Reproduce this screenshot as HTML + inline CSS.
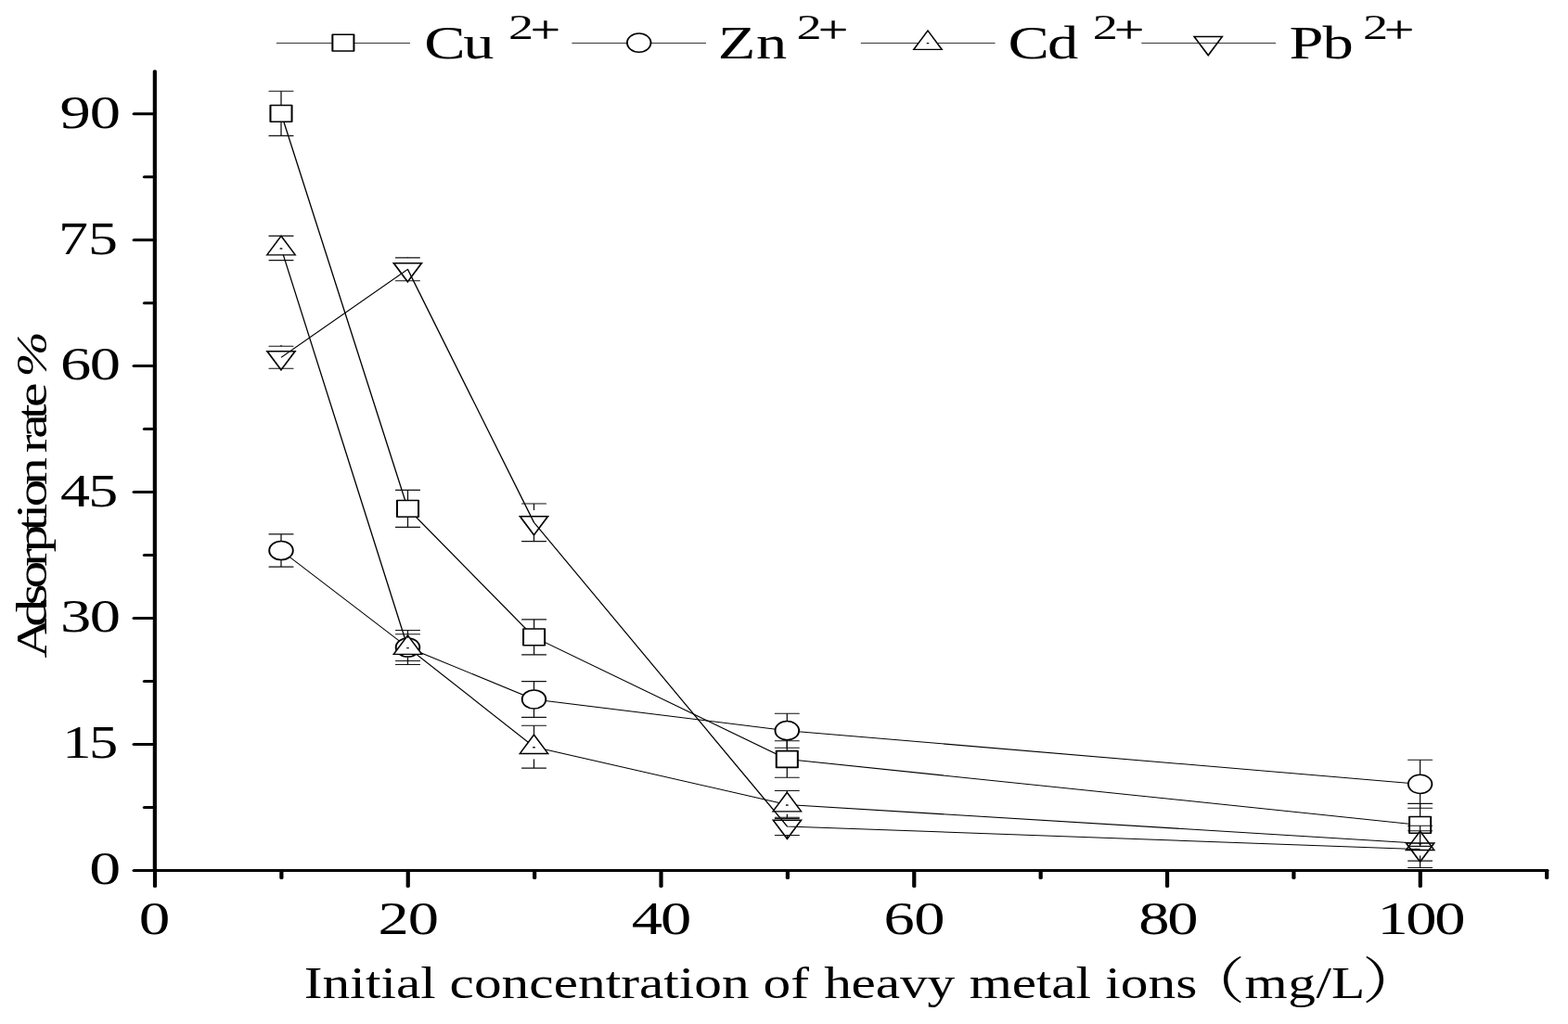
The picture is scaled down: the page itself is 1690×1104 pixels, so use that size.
<!DOCTYPE html>
<html lang="en">
<head>
<meta charset="utf-8">
<title>Adsorption rate vs initial concentration of heavy metal ions</title>
<style>
html,body{margin:0;padding:0;background:#fff;}
body{width:1690px;height:1104px;overflow:hidden;}
svg text{font-family:"Liberation Serif", "Noto Serif CJK SC", serif;white-space:pre;}
</style>
</head>
<body>
<svg width="1690" height="1104" viewBox="0 0 1690 1104" style="display:block">
<g id="axes" transform="scale(1.4,1)" stroke="#000" stroke-width="3.0" stroke-linecap="round" fill="none">
<line x1="119.18" y1="76.70" x2="119.18" y2="938.45"/>
<line x1="119.18" y1="938.45" x2="1190.99" y2="938.45"/>
<line x1="103.29" y1="938.45" x2="119.18" y2="938.45"/>
<line x1="103.29" y1="802.49" x2="119.18" y2="802.49"/>
<line x1="103.29" y1="666.53" x2="119.18" y2="666.53"/>
<line x1="103.29" y1="530.57" x2="119.18" y2="530.57"/>
<line x1="103.29" y1="394.61" x2="119.18" y2="394.61"/>
<line x1="103.29" y1="258.65" x2="119.18" y2="258.65"/>
<line x1="103.29" y1="122.69" x2="119.18" y2="122.69"/>
<line x1="111.32" y1="870.47" x2="119.18" y2="870.47"/>
<line x1="111.32" y1="734.51" x2="119.18" y2="734.51"/>
<line x1="111.32" y1="598.55" x2="119.18" y2="598.55"/>
<line x1="111.32" y1="462.59" x2="119.18" y2="462.59"/>
<line x1="111.32" y1="326.63" x2="119.18" y2="326.63"/>
<line x1="111.32" y1="190.67" x2="119.18" y2="190.67"/>
<line x1="119.29" y1="938.45" x2="119.29" y2="955.60"/>
<line x1="314.11" y1="938.45" x2="314.11" y2="955.60"/>
<line x1="508.94" y1="938.45" x2="508.94" y2="955.60"/>
<line x1="703.77" y1="938.45" x2="703.77" y2="955.60"/>
<line x1="898.60" y1="938.45" x2="898.60" y2="955.60"/>
<line x1="1093.43" y1="938.45" x2="1093.43" y2="955.60"/>
<line x1="216.70" y1="938.45" x2="216.70" y2="946.60"/>
<line x1="411.53" y1="938.45" x2="411.53" y2="946.60"/>
<line x1="606.36" y1="938.45" x2="606.36" y2="946.60"/>
<line x1="801.19" y1="938.45" x2="801.19" y2="946.60"/>
<line x1="996.01" y1="938.45" x2="996.01" y2="946.60"/>
<line x1="1190.84" y1="938.45" x2="1190.84" y2="946.60"/>
</g>
<g fill="#000" stroke="#000" stroke-width="0" stroke-linejoin="round">
<text id="y90" transform="translate(64.55,137.53) scale(1.3000,1.0000)" font-size="51.2" x="0.00 24.79" y="0">90</text>
<text id="y75" transform="translate(62.95,273.50) scale(1.2500,1.0000)" font-size="51.2" x="0.00 25.66" y="0">75</text>
<text id="y60" transform="translate(64.90,409.47) scale(1.3000,1.0000)" font-size="51.2" x="0.00 24.48" y="0">60</text>
<text id="y45" transform="translate(64.90,545.54) scale(1.2500,1.0000)" font-size="51.2" x="0.00 24.25" y="0">45</text>
<text id="y30" transform="translate(65.10,681.41) scale(1.3000,1.0000)" font-size="51.2" x="0.00 24.41" y="0">30</text>
<text id="y15" transform="translate(67.15,817.33) scale(1.2200,1.0000)" font-size="51.2" x="0.00 23.58" y="0">15</text>
<text id="y0" transform="translate(96.15,953.35) scale(1.3253,1.0000)" font-size="51.2" x="0.00" y="0">0</text>
<text id="x0" transform="translate(149.85,1006.85) scale(1.3138,1.0000)" font-size="51.2" x="0.00" y="0">0</text>
<text id="x20" transform="translate(407.40,1006.85) scale(1.3000,1.0000)" font-size="51.2" x="0.00 24.95" y="0">20</text>
<text id="x40" transform="translate(680.70,1006.85) scale(1.3000,1.0000)" font-size="51.2" x="0.00 24.10" y="0">40</text>
<text id="x60" transform="translate(952.55,1006.85) scale(1.3000,1.0000)" font-size="51.2" x="0.00 25.10" y="0">60</text>
<text id="x80" transform="translate(1227.30,1006.85) scale(1.3000,1.0000)" font-size="51.2" x="0.00 23.83" y="0">80</text>
<text id="x100" transform="translate(1484.40,1006.85) scale(1.3000,1.0000)" font-size="51.2" x="0.00 23.75 47.51" y="0">100</text>
<text id="LCu" transform="translate(457.25,63.40) scale(1.3200,1.0000)" font-size="50.4" x="0.00 31.91" y="0">Cu</text>
<text id="SCu" transform="translate(548.05,41.65) scale(1.4261,1)" font-size="38" x="0" y="0">2<tspan font-size="40.0" stroke-width="0.3" x="16.57" y="3.58">+</tspan></text>
<text id="LZn" transform="translate(773.75,63.45) scale(1.3200,1.0000)" font-size="50.4" x="0.00 31.35" y="0">Zn</text>
<text id="SZn" transform="translate(858.50,41.65) scale(1.4261,1)" font-size="38" x="0" y="0">2<tspan font-size="40.0" stroke-width="0.3" x="16.54" y="3.58">+</tspan></text>
<text id="LCd" transform="translate(1086.55,63.40) scale(1.3200,1.0000)" font-size="50.4" x="0.00 32.10" y="0">Cd</text>
<text id="SCd" transform="translate(1177.85,41.65) scale(1.4257,1)" font-size="38" x="0" y="0">2<tspan font-size="40.0" stroke-width="0.3" x="16.16" y="3.58">+</tspan></text>
<text id="LPb" transform="translate(1389.55,63.20) scale(1.3200,1.0000)" font-size="50.4" x="0.00 27.16" y="0">Pb</text>
<text id="SPb" transform="translate(1469.05,41.65) scale(1.4261,1)" font-size="38" x="0" y="0">2<tspan font-size="40.0" stroke-width="0.3" x="16.15" y="3.58">+</tspan></text>
<text id="xtitle" transform="translate(0,1076.2) scale(1.237,1)" font-size="48.0"><tspan x="265.00 281.01 305.06 318.43 331.79 345.16 366.50" y="0">Initial</tspan><tspan x="379.87" y="0"> </tspan><tspan x="391.71 413.02 437.02 461.02 482.33 503.63 527.63 540.97 556.95 578.26 591.59 604.93 628.93" y="0">concentration</tspan><tspan x="652.93" y="0"> </tspan><tspan x="664.96 688.92" y="0">of</tspan><tspan x="704.88" y="0"> </tspan><tspan x="717.99 741.82 762.98 784.14 807.98" y="0">heavy</tspan><tspan x="831.82" y="0"> </tspan><tspan x="844.58 881.68 902.85 916.10 937.27" y="0">metal</tspan><tspan x="950.52" y="0"> </tspan><tspan x="963.02 976.36 1000.39 1024.41" y="0">ions</tspan><tspan font-size="53.6" x="1031.29" y="1.20">（</tspan><tspan x="1084.56 1122.37 1146.67 1160.17" y="0">mg/L</tspan><tspan font-size="53.6" x="1186.75" y="1.07">）</tspan></text>
<text id="ytitle" transform="translate(49.80,709.50) rotate(-90) scale(1.2800,1)" font-size="46.6" x="0.00 26.29 44.49 58.66 76.87 88.99 107.19 117.31 127.42 145.63 163.83 172.93 185.05 201.21 211.33 227.49" y="0">Adsorption rate <tspan font-style="italic" x="236.59" font-size="46.6">%</tspan></text>
</g>
<g id="series-Cu">
<polyline transform="scale(1.3,1)" points="233.08,122.30 338.08,548.40 442.77,686.90 652.54,818.50 1177.38,889.40" fill="none" stroke="#000" stroke-width="1.05" stroke-linejoin="round"/>
<g transform="translate(303.00,122.30) scale(1.3,1)"><rect x="-8.88" y="-8.88" width="17.76" height="17.76" fill="#fff" stroke="#000" stroke-width="1.55" stroke-linejoin="round"/></g>
<g transform="translate(439.50,548.40) scale(1.3,1)"><rect x="-8.88" y="-8.88" width="17.76" height="17.76" fill="#fff" stroke="#000" stroke-width="1.55" stroke-linejoin="round"/></g>
<g transform="translate(575.60,686.90) scale(1.3,1)"><rect x="-8.88" y="-8.88" width="17.76" height="17.76" fill="#fff" stroke="#000" stroke-width="1.55" stroke-linejoin="round"/></g>
<g transform="translate(848.30,818.50) scale(1.3,1)"><rect x="-8.88" y="-8.88" width="17.76" height="17.76" fill="#fff" stroke="#000" stroke-width="1.55" stroke-linejoin="round"/></g>
<g transform="translate(1530.60,889.40) scale(1.3,1)"><rect x="-8.88" y="-8.88" width="17.76" height="17.76" fill="#fff" stroke="#000" stroke-width="1.55" stroke-linejoin="round"/></g>
</g>
<g id="series-Zn">
<polyline transform="scale(1.3,1)" points="233.08,593.50 338.08,698.00 442.69,754.00 652.54,787.70 1177.38,845.30" fill="none" stroke="#000" stroke-width="1.05" stroke-linejoin="round"/>
<g transform="translate(303.00,593.50) scale(1.267,1)"><circle r="10.1" fill="#fff" stroke="#000" stroke-width="1.5"/></g>
<g transform="translate(439.50,698.00) scale(1.267,1)"><circle r="10.1" fill="#fff" stroke="#000" stroke-width="1.5"/></g>
<g transform="translate(575.50,754.00) scale(1.267,1)"><circle r="10.1" fill="#fff" stroke="#000" stroke-width="1.5"/></g>
<g transform="translate(848.30,787.70) scale(1.267,1)"><circle r="10.1" fill="#fff" stroke="#000" stroke-width="1.5"/></g>
<g transform="translate(1530.60,845.30) scale(1.267,1)"><circle r="10.1" fill="#fff" stroke="#000" stroke-width="1.5"/></g>
</g>
<g id="series-Cd">
<polyline transform="scale(1.3,1)" points="233.08,267.50 338.08,698.10 442.69,805.20 652.54,867.50 1177.38,909.20" fill="none" stroke="#000" stroke-width="1.05" stroke-linejoin="round"/>
<g transform="translate(303.00,267.50) scale(1.3,1)"><path d="M0 -13.1L11.7 7.3L-11.7 7.3Z" fill="#fff" stroke="#000" stroke-width="1.28" stroke-linejoin="miter"/><rect x="-1.1" y="-0.15" width="2.2" height="1.4" rx="0.5" fill="#111"/></g>
<g transform="translate(439.50,698.10) scale(1.3,1)"><path d="M0 -13.1L11.7 7.3L-11.7 7.3Z" fill="#fff" stroke="#000" stroke-width="1.28" stroke-linejoin="miter"/><rect x="-1.1" y="-0.15" width="2.2" height="1.4" rx="0.5" fill="#111"/></g>
<g transform="translate(575.50,805.20) scale(1.3,1)"><path d="M0 -13.1L11.7 7.3L-11.7 7.3Z" fill="#fff" stroke="#000" stroke-width="1.28" stroke-linejoin="miter"/><rect x="-1.1" y="-0.15" width="2.2" height="1.4" rx="0.5" fill="#111"/></g>
<g transform="translate(848.30,867.50) scale(1.3,1)"><path d="M0 -13.1L11.7 7.3L-11.7 7.3Z" fill="#fff" stroke="#000" stroke-width="1.28" stroke-linejoin="miter"/><rect x="-1.1" y="-0.15" width="2.2" height="1.4" rx="0.5" fill="#111"/></g>
<g transform="translate(1530.60,909.20) scale(1.3,1)"><path d="M0 -13.1L11.7 7.3L-11.7 7.3Z" fill="#fff" stroke="#000" stroke-width="1.28" stroke-linejoin="miter"/><rect x="-1.1" y="-0.15" width="2.2" height="1.4" rx="0.5" fill="#111"/></g>
</g>
<g id="series-Pb">
<polyline transform="scale(1.3,1)" points="233.08,385.30 338.00,290.30 442.69,563.30 652.62,890.90 1177.38,915.60" fill="none" stroke="#000" stroke-width="1.05" stroke-linejoin="round"/>
<g transform="translate(303.00,385.30) scale(1.3,1)"><path d="M0 13.45L11.6 -6.6L-11.6 -6.6Z" fill="none" stroke="#000" stroke-width="1.4" stroke-linejoin="miter"/></g>
<g transform="translate(439.40,290.30) scale(1.3,1)"><path d="M0 13.45L11.6 -6.6L-11.6 -6.6Z" fill="none" stroke="#000" stroke-width="1.4" stroke-linejoin="miter"/></g>
<g transform="translate(575.50,563.30) scale(1.3,1)"><path d="M0 13.45L11.6 -6.6L-11.6 -6.6Z" fill="none" stroke="#000" stroke-width="1.4" stroke-linejoin="miter"/></g>
<g transform="translate(848.40,890.90) scale(1.3,1)"><path d="M0 13.45L11.6 -6.6L-11.6 -6.6Z" fill="none" stroke="#000" stroke-width="1.4" stroke-linejoin="miter"/></g>
<g transform="translate(1530.60,915.60) scale(1.3,1)"><path d="M0 13.45L11.6 -6.6L-11.6 -6.6Z" fill="none" stroke="#000" stroke-width="1.4" stroke-linejoin="miter"/></g>
</g>
<g id="errorbars" stroke="#111" fill="none">
<line x1="290.00" y1="98.20" x2="316.00" y2="98.20" stroke-width="1.1" stroke-linecap="round"/><line x1="303.00" y1="113.30" x2="303.00" y2="98.20" stroke-width="1.3"/><line x1="290.00" y1="146.40" x2="316.00" y2="146.40" stroke-width="1.1" stroke-linecap="round"/><line x1="303.00" y1="131.30" x2="303.00" y2="146.40" stroke-width="1.3"/>
<line x1="426.50" y1="528.40" x2="452.50" y2="528.40" stroke-width="1.1" stroke-linecap="round"/><line x1="439.50" y1="539.40" x2="439.50" y2="528.40" stroke-width="1.3"/><line x1="426.50" y1="568.40" x2="452.50" y2="568.40" stroke-width="1.1" stroke-linecap="round"/><line x1="439.50" y1="557.40" x2="439.50" y2="568.40" stroke-width="1.3"/>
<line x1="562.60" y1="667.90" x2="588.60" y2="667.90" stroke-width="1.1" stroke-linecap="round"/><line x1="575.60" y1="677.90" x2="575.60" y2="667.90" stroke-width="1.3"/><line x1="562.60" y1="705.90" x2="588.60" y2="705.90" stroke-width="1.1" stroke-linecap="round"/><line x1="575.60" y1="695.90" x2="575.60" y2="705.90" stroke-width="1.3"/>
<line x1="835.30" y1="798.80" x2="861.30" y2="798.80" stroke-width="1.1" stroke-linecap="round"/><line x1="848.30" y1="809.50" x2="848.30" y2="798.80" stroke-width="1.3"/><line x1="835.30" y1="838.20" x2="861.30" y2="838.20" stroke-width="1.1" stroke-linecap="round"/><line x1="848.30" y1="827.50" x2="848.30" y2="838.20" stroke-width="1.3"/>
<line x1="1517.60" y1="866.40" x2="1543.60" y2="866.40" stroke-width="1.1" stroke-linecap="round"/><line x1="1530.60" y1="880.40" x2="1530.60" y2="866.40" stroke-width="1.3"/><line x1="1517.60" y1="912.40" x2="1543.60" y2="912.40" stroke-width="1.1" stroke-linecap="round"/><line x1="1530.60" y1="898.40" x2="1530.60" y2="912.40" stroke-width="1.3"/>
<line x1="290.00" y1="575.90" x2="316.00" y2="575.90" stroke-width="1.1" stroke-linecap="round"/><line x1="303.00" y1="583.30" x2="303.00" y2="575.90" stroke-width="1.3"/><line x1="290.00" y1="611.10" x2="316.00" y2="611.10" stroke-width="1.1" stroke-linecap="round"/><line x1="303.00" y1="603.70" x2="303.00" y2="611.10" stroke-width="1.3"/>
<line x1="426.50" y1="679.50" x2="452.50" y2="679.50" stroke-width="1.1" stroke-linecap="round"/><line x1="439.50" y1="687.80" x2="439.50" y2="679.50" stroke-width="1.3"/><line x1="426.50" y1="716.50" x2="452.50" y2="716.50" stroke-width="1.1" stroke-linecap="round"/><line x1="439.50" y1="708.20" x2="439.50" y2="716.50" stroke-width="1.3"/>
<line x1="562.50" y1="734.60" x2="588.50" y2="734.60" stroke-width="1.1" stroke-linecap="round"/><line x1="575.50" y1="743.80" x2="575.50" y2="734.60" stroke-width="1.3"/><line x1="562.50" y1="773.40" x2="588.50" y2="773.40" stroke-width="1.1" stroke-linecap="round"/><line x1="575.50" y1="764.20" x2="575.50" y2="773.40" stroke-width="1.3"/>
<line x1="835.30" y1="769.20" x2="861.30" y2="769.20" stroke-width="1.1" stroke-linecap="round"/><line x1="848.30" y1="777.50" x2="848.30" y2="769.20" stroke-width="1.3"/><line x1="835.30" y1="806.20" x2="861.30" y2="806.20" stroke-width="1.1" stroke-linecap="round"/><line x1="848.30" y1="797.90" x2="848.30" y2="806.20" stroke-width="1.3"/>
<line x1="1517.60" y1="819.30" x2="1543.60" y2="819.30" stroke-width="1.1" stroke-linecap="round"/><line x1="1530.60" y1="835.10" x2="1530.60" y2="819.30" stroke-width="1.3"/><line x1="1517.60" y1="871.30" x2="1543.60" y2="871.30" stroke-width="1.1" stroke-linecap="round"/><line x1="1530.60" y1="855.50" x2="1530.60" y2="871.30" stroke-width="1.3"/>
<line x1="290.00" y1="254.40" x2="316.00" y2="254.40" stroke-width="1.1" stroke-linecap="round"/><line x1="290.00" y1="280.60" x2="316.00" y2="280.60" stroke-width="1.1" stroke-linecap="round"/>
<line x1="426.50" y1="683.70" x2="452.50" y2="683.70" stroke-width="1.1" stroke-linecap="round"/><line x1="439.50" y1="684.90" x2="439.50" y2="683.70" stroke-width="1.3"/><line x1="426.50" y1="712.50" x2="452.50" y2="712.50" stroke-width="1.1" stroke-linecap="round"/><line x1="439.50" y1="711.30" x2="439.50" y2="712.50" stroke-width="1.3"/>
<line x1="562.50" y1="782.30" x2="588.50" y2="782.30" stroke-width="1.1" stroke-linecap="round"/><line x1="575.50" y1="792.00" x2="575.50" y2="782.30" stroke-width="1.3"/><line x1="562.50" y1="828.10" x2="588.50" y2="828.10" stroke-width="1.1" stroke-linecap="round"/><line x1="575.50" y1="818.40" x2="575.50" y2="828.10" stroke-width="1.3"/>
<line x1="835.30" y1="852.50" x2="861.30" y2="852.50" stroke-width="1.1" stroke-linecap="round"/><line x1="848.30" y1="854.30" x2="848.30" y2="852.50" stroke-width="1.3"/><line x1="835.30" y1="882.50" x2="861.30" y2="882.50" stroke-width="1.1" stroke-linecap="round"/><line x1="848.30" y1="880.70" x2="848.30" y2="882.50" stroke-width="1.3"/>
<line x1="1517.60" y1="890.30" x2="1543.60" y2="890.30" stroke-width="1.1" stroke-linecap="round"/><line x1="1530.60" y1="896.00" x2="1530.60" y2="890.30" stroke-width="1.3"/><line x1="1517.60" y1="928.10" x2="1543.60" y2="928.10" stroke-width="1.1" stroke-linecap="round"/><line x1="1530.60" y1="922.40" x2="1530.60" y2="928.10" stroke-width="1.3"/>
<line x1="290.00" y1="373.30" x2="316.00" y2="373.30" stroke-width="1.1" stroke-linecap="round"/><line x1="303.00" y1="372.10" x2="303.00" y2="373.30" stroke-width="1.3"/><line x1="290.00" y1="397.30" x2="316.00" y2="397.30" stroke-width="1.1" stroke-linecap="round"/><line x1="303.00" y1="398.50" x2="303.00" y2="397.30" stroke-width="1.3"/>
<line x1="426.40" y1="277.90" x2="452.40" y2="277.90" stroke-width="1.1" stroke-linecap="round"/><line x1="439.40" y1="277.10" x2="439.40" y2="277.90" stroke-width="1.3"/><line x1="426.40" y1="302.70" x2="452.40" y2="302.70" stroke-width="1.1" stroke-linecap="round"/><line x1="439.40" y1="303.50" x2="439.40" y2="302.70" stroke-width="1.3"/>
<line x1="562.50" y1="543.00" x2="588.50" y2="543.00" stroke-width="1.1" stroke-linecap="round"/><line x1="575.50" y1="550.10" x2="575.50" y2="543.00" stroke-width="1.3"/><line x1="562.50" y1="583.60" x2="588.50" y2="583.60" stroke-width="1.1" stroke-linecap="round"/><line x1="575.50" y1="576.50" x2="575.50" y2="583.60" stroke-width="1.3"/>
<line x1="835.40" y1="881.30" x2="861.40" y2="881.30" stroke-width="1.1" stroke-linecap="round"/><line x1="848.40" y1="877.70" x2="848.40" y2="881.30" stroke-width="1.3"/><line x1="835.40" y1="900.50" x2="861.40" y2="900.50" stroke-width="1.1" stroke-linecap="round"/><line x1="848.40" y1="904.10" x2="848.40" y2="900.50" stroke-width="1.3"/>
<line x1="1517.60" y1="895.70" x2="1543.60" y2="895.70" stroke-width="1.1" stroke-linecap="round"/><line x1="1530.60" y1="902.40" x2="1530.60" y2="895.70" stroke-width="1.3"/><line x1="1517.60" y1="935.50" x2="1543.60" y2="935.50" stroke-width="1.1" stroke-linecap="round"/><line x1="1530.60" y1="928.80" x2="1530.60" y2="935.50" stroke-width="1.3"/>
</g>
<g id="legend">
<line x1="297.9" y1="46.45" x2="442.0" y2="46.45" stroke="#333" stroke-width="1.0"/>
<g transform="translate(369.90,46.10) scale(1.3,1)"><rect x="-8.88" y="-8.88" width="17.76" height="17.76" fill="#fff" stroke="#000" stroke-width="1.55" stroke-linejoin="round"/></g>
<line x1="616.4" y1="46.45" x2="761.0" y2="46.45" stroke="#333" stroke-width="1.0"/>
<g transform="translate(688.70,46.10) scale(1.267,1)"><circle r="10.1" fill="#fff" stroke="#000" stroke-width="1.5"/></g>
<line x1="927.8" y1="46.45" x2="1072.5" y2="46.45" stroke="#333" stroke-width="1.0"/>
<g transform="translate(1000.00,46.10) scale(1.3,1)"><path d="M0 -13.1L11.7 7.3L-11.7 7.3Z" fill="#fff" stroke="#000" stroke-width="1.28" stroke-linejoin="miter"/><rect x="-1.1" y="-0.15" width="2.2" height="1.4" rx="0.5" fill="#111"/></g>
<line x1="1230.3" y1="46.45" x2="1375.0" y2="46.45" stroke="#333" stroke-width="1.0"/>
<g transform="translate(1302.20,46.10) scale(1.3,1)"><path d="M0 13.45L11.6 -6.6L-11.6 -6.6Z" fill="none" stroke="#000" stroke-width="1.4" stroke-linejoin="miter"/></g>
</g>
</svg>
</body>
</html>
